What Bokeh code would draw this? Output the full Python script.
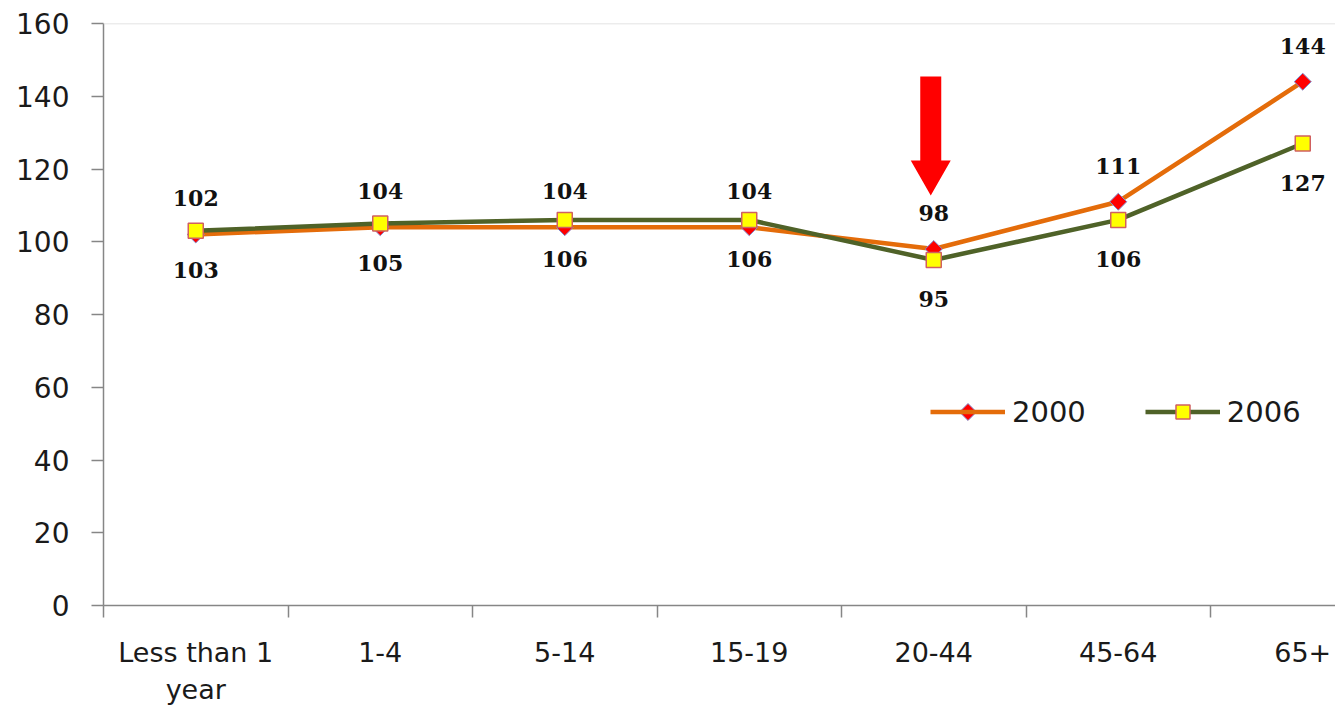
from bokeh.plotting import figure
from bokeh.models import FixedTicker, Span, Legend, LegendItem, ColumnDataSource
from bokeh.core.properties import value
from bokeh.embed import file_html
from bokeh.resources import INLINE
import math

# Age groups and the two survey years
categories = ["Less than 1\nyear", "1-4", "5-14", "15-19", "20-44", "45-64", "65+"]
values_2000 = [102, 104, 104, 104, 98, 111, 144]
values_2006 = [103, 105, 106, 106, 95, 106, 127]
y_ticks = [0, 20, 40, 60, 80, 100, 120, 140, 160]
highlight = "20-44"

ORANGE = "#E46C0A"
GREEN = "#4F6228"
AXIS = "#868686"

# each category occupies one unit; points sit in the middle of their band
x = [i + 0.5 for i in range(len(categories))]
band_px = 184.5
frame_w = 1335 - 103
frame_h = 582
px_y = 160 / frame_h

p = figure(width=1335, height=710, output_backend="svg", toolbar_location=None,
           x_range=(0, frame_w / band_px), y_range=(0, 160),
           min_border_left=103, min_border_right=0, min_border_top=23, min_border_bottom=105)
p.outline_line_color = None
p.xgrid.visible = False
p.ygrid.visible = False
p.background_fill_color = "white"
p.border_fill_color = "white"

# x axis: labels at band centres, tick marks on band edges
p.xaxis.ticker = FixedTicker(ticks=x, minor_ticks=list(range(len(categories) + 1)))
p.xaxis.major_label_overrides = {xi: c for xi, c in zip(x, categories)}
p.xaxis.major_tick_line_color = None
p.xaxis.minor_tick_out = 12
p.xaxis.minor_tick_in = 0
p.xaxis.minor_tick_line_color = AXIS
p.xaxis.minor_tick_line_width = 1.5
p.xaxis.axis_line_color = AXIS
p.xaxis.axis_line_width = 1.5
p.xaxis.major_label_text_font = "DejaVu Sans"
p.xaxis.major_label_text_font_size = "27px"
p.xaxis.major_label_text_color = "#1a1a1a"
p.xaxis.major_label_standoff = 19

p.yaxis.ticker = FixedTicker(ticks=y_ticks)
p.yaxis.major_tick_out = 12
p.yaxis.major_tick_in = 0
p.yaxis.minor_tick_line_color = None
p.yaxis.major_tick_line_color = AXIS
p.yaxis.major_tick_line_width = 1.5
p.yaxis.axis_line_color = AXIS
p.yaxis.axis_line_width = 1.5
p.yaxis.major_label_text_font = "DejaVu Sans"
p.yaxis.major_label_text_font_size = "28px"
p.yaxis.major_label_text_color = "#1a1a1a"
p.yaxis.major_label_standoff = 22

p.add_layout(Span(location=160, dimension="width", line_color="#d9d9d9", line_width=1.5))

src_2000 = ColumnDataSource(dict(x=x, y=values_2000, t=[str(v) for v in values_2000]))
src_2006 = ColumnDataSource(dict(x=x, y=values_2006, t=[str(v) for v in values_2006]))

diamond_style = dict(marker="square", angle=math.pi / 4, size=12,
                     fill_color="#FF0000", line_color="#7F8FD0", line_width=1)

l1 = p.line("x", "y", source=src_2000, line_color=ORANGE, line_width=4.5)
m1 = p.scatter("x", "y", source=src_2000, **diamond_style)
l2 = p.line("x", "y", source=src_2006, line_color=GREEN, line_width=4.5)
m2 = p.scatter("x", "y", source=src_2006, marker="square", size=15,
               fill_color="#FFFF00", line_color="#D06060", line_width=1.5)

label_style = dict(text_align="center", text_baseline="middle",
                   text_font=value("DejaVu Serif"), text_font_style="bold",
                   text_font_size="22px", text_color="#111111")
p.text("x", "y", text="t", source=src_2000, y_offset=-36, **label_style)
p.text("x", "y", text="t", source=src_2006, y_offset=39, **label_style)

# red down arrow pointing at the highlighted age group
ax = x[categories.index(highlight)] - 3 / band_px
shaft_half = 10.5 / band_px
head_half = 20 / band_px
tail_y = 160 - 53 * px_y
base_y = 160 - 137 * px_y
tip_y = 160 - 172 * px_y
p.patch([ax - shaft_half, ax + shaft_half, ax + shaft_half, ax + head_half, ax,
         ax - head_half, ax - shaft_half],
        [tail_y, tail_y, base_y, base_y, tip_y, base_y, base_y],
        fill_color="#FF0000", line_color=None)

# horizontal legend inside the frame
leg_x, leg_y = 827, 176
glyph_w, glyph_h = 75, 35
legend = Legend(items=[LegendItem(label="2000", renderers=[l1]),
                       LegendItem(label="2006", renderers=[l2, m2])],
                orientation="horizontal", location=(leg_x, leg_y),
                glyph_width=glyph_w, glyph_height=glyph_h, label_height=glyph_h,
                label_standoff=7, spacing=59, padding=0, margin=0,
                border_line_color=None, background_fill_alpha=0,
                label_text_font="DejaVu Sans", label_text_font_size="29px",
                label_text_color="#1a1a1a")
p.add_layout(legend)

# the legend swatch cannot rotate markers, so the 2000 diamond is laid over it
sw = ColumnDataSource(dict(x=[(leg_x + glyph_w / 2) / band_px],
                           y=[(leg_y + glyph_h / 2) * px_y]))
p.scatter("x", "y", source=sw, level="overlay", **diamond_style)

open("out.html", "w").write(file_html(p, INLINE))
